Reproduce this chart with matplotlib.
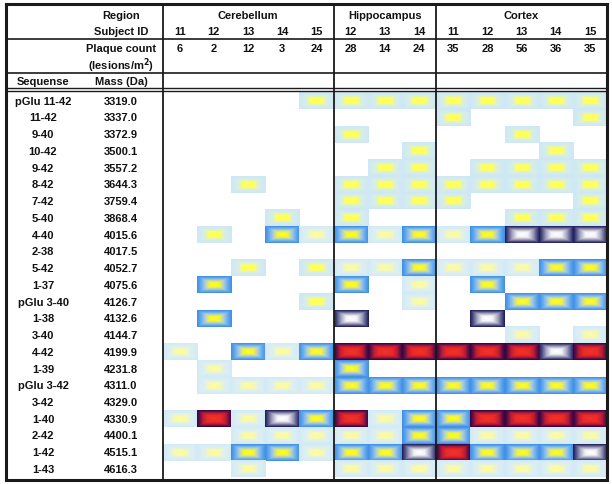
import numpy as np
import matplotlib
matplotlib.use("Agg")
import matplotlib.pyplot as plt
from matplotlib.colors import LinearSegmentedColormap

# Table data
regions = ["Cerebellum", "Hippocampus", "Cortex"]
region_sizes = [5, 3, 5]
subject_ids = ["11", "12", "13", "14", "15", "12", "13", "14", "11", "12", "13", "14", "15"]
plaque_counts = ["6", "2", "12", "3", "24", "28", "14", "24", "35", "28", "56", "36", "35"]
sequences = ["pGlu 11-42", "11-42", "9-40", "10-42", "9-42", "8-42", "7-42", "5-40",
             "4-40", "2-38", "5-42", "1-37", "pGlu 3-40", "1-38", "3-40", "4-42",
             "1-39", "pGlu 3-42", "3-42", "1-40", "2-42", "1-42", "1-43"]
masses = ["3319.0", "3337.0", "3372.9", "3500.1", "3557.2", "3644.3", "3759.4", "3868.4",
          "4015.6", "4017.5", "4052.7", "4075.6", "4126.7", "4132.6", "4144.7", "4199.9",
          "4231.8", "4311.0", "4329.0", "4330.9", "4400.1", "4515.1", "4616.3"]

# signal level per cell: 0 none, 1 faint, 2 low, 3 medium, 4 high, 5 highest
levels = [
    [0, 0, 0, 0, 2, 2, 2, 2, 2, 2, 2, 2, 2],
    [0, 0, 0, 0, 0, 0, 0, 0, 2, 0, 0, 0, 2],
    [0, 0, 0, 0, 0, 2, 0, 0, 0, 0, 2, 0, 0],
    [0, 0, 0, 0, 0, 0, 0, 2, 0, 0, 0, 2, 0],
    [0, 0, 0, 0, 0, 0, 2, 2, 0, 2, 2, 2, 2],
    [0, 0, 2, 0, 0, 2, 2, 2, 2, 2, 2, 2, 2],
    [0, 0, 0, 0, 0, 2, 2, 2, 2, 0, 0, 0, 2],
    [0, 0, 0, 2, 0, 2, 0, 0, 0, 0, 2, 2, 2],
    [0, 2, 0, 3, 1, 3, 1, 3, 1, 3, 4, 4, 4],
    [0, 0, 0, 0, 0, 0, 0, 0, 0, 0, 0, 0, 0],
    [0, 0, 2, 0, 2, 1, 1, 3, 1, 1, 1, 3, 3],
    [0, 3, 0, 0, 0, 3, 0, 1, 0, 3, 0, 0, 0],
    [0, 0, 0, 0, 2, 0, 0, 1, 0, 0, 3, 3, 3],
    [0, 3, 0, 0, 0, 4, 0, 0, 0, 4, 0, 0, 0],
    [0, 0, 0, 0, 0, 0, 0, 0, 0, 0, 1, 0, 1],
    [1, 0, 3, 1, 3, 5, 5, 5, 5, 5, 5, 4, 5],
    [0, 1, 0, 0, 0, 3, 0, 0, 0, 0, 0, 0, 0],
    [0, 1, 1, 1, 1, 3, 3, 3, 3, 3, 3, 3, 3],
    [0, 0, 0, 0, 0, 0, 0, 0, 0, 0, 0, 0, 0],
    [1, 5, 1, 4, 3, 5, 1, 3, 3, 5, 5, 5, 5],
    [0, 0, 1, 1, 1, 1, 1, 3, 3, 1, 1, 1, 1],
    [1, 1, 3, 3, 1, 3, 3, 4, 5, 3, 3, 3, 4],
    [0, 0, 1, 0, 0, 1, 1, 1, 1, 1, 1, 1, 1],
]

# colour ramps from cell centre (0) to edge (1)
ramps = {
    1: [(0.0, "#fcfca0"), (0.3, "#fafaa8"), (0.55, "#e0f0ee"), (1.0, "#d2eaf8")],
    2: [(0.0, "#ffff50"), (0.32, "#ffff60"), (0.58, "#d8eee6"), (1.0, "#cde7f8")],
    3: [(0.0, "#ffff18"), (0.3, "#f4f438"), (0.55, "#a8cce0"), (0.8, "#62a8ee"), (1.0, "#3f8fe4")],
    4: [(0.0, "#ffffff"), (0.3, "#f4f4f6"), (0.6, "#a4a4c0"), (0.85, "#4a4a80"), (1.0, "#1e1c58")],
    5: [(0.0, "#f23226"), (0.4, "#ec2a28"), (0.68, "#b41c36"), (0.87, "#5a0c48"), (1.0, "#34063e")],
}

X0, COL_W = 162.5, 34.2
Y0, ROW_H = 93.3, 16.74
n_cols = len(subject_ids)
n_rows = len(sequences)

yy, xx = np.mgrid[-1:1:40j, -1:1:80j]
dist = np.maximum(np.abs(xx), np.abs(yy))
cell_imgs = {}
for lv, stops in ramps.items():
    cmap = LinearSegmentedColormap.from_list(f"lv{lv}", stops)
    cell_imgs[lv] = cmap(dist)

fig = plt.figure(figsize=(6.12, 4.85), dpi=100)
ax = fig.add_axes([0, 0, 1, 1])
ax.set_xlim(0, 612)
ax.set_ylim(485, 0)
ax.axis("off")

for r, row in enumerate(levels):
    for c, lv in enumerate(row):
        if lv == 0:
            continue
        x0 = X0 + c * COL_W
        y0 = Y0 + r * ROW_H
        ax.imshow(cell_imgs[lv], extent=(x0, x0 + COL_W, y0 + ROW_H, y0),
                  interpolation="bilinear", aspect="auto", zorder=1)

font = dict(family="Liberation Sans", weight="bold", fontsize=8, color="#111111",
            ha="center", va="center")

# header
ax.text(121, 16, "Region", **font)
ax.text(121, 32, "Subject ID", **font)
ax.text(121, 49, "Plaque count", **font)
ax.text(121, 66, "(lesions/m$^\\mathbf{2}$)", **font)
ax.text(43, 82, "Sequense", **font)
ax.text(121, 82, "Mass (Da)", **font)

start = 0
for name, size in zip(regions, region_sizes):
    ax.text(X0 + (start + size / 2) * COL_W, 16, name, **font)
    start += size
for c in range(n_cols):
    xc = X0 + (c + 0.5) * COL_W
    ax.text(xc, 32, subject_ids[c], **font)
    ax.text(xc, 49, plaque_counts[c], **font)

for r in range(n_rows):
    yc = Y0 + (r + 0.5) * ROW_H
    ax.text(43, yc, sequences[r], **font)
    ax.text(121, yc, masses[r], **font)

# grid lines
right = X0 + n_cols * COL_W
lc = "#1a1a1a"
ax.plot([6, right, right, 6, 6], [5, 5, 481, 481, 5], color=lc, lw=2.2, zorder=5,
        solid_joinstyle="miter")
for y in (39.5, 73.5):
    ax.plot([6, right], [y, y], color=lc, lw=1.2, zorder=5)
for y in (89.2, 92.2):
    ax.plot([6, right], [y, y], color=lc, lw=1.0, zorder=5)
ax.plot([X0, X0], [5, 481], color=lc, lw=1.3, zorder=5)
for k in np.cumsum(region_sizes)[:-1]:
    xv = X0 + k * COL_W
    ax.plot([xv, xv], [5, 481], color=lc, lw=1.3, zorder=5)

fig.savefig("out.png", dpi=100, facecolor="white")
